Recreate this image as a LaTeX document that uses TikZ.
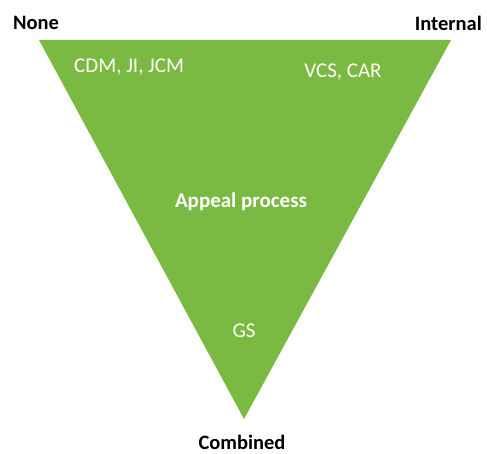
\documentclass[tikz,border=0pt]{standalone}
\usepackage{fontspec}
\setmainfont{Carlito}
\definecolor{tgreen}{HTML}{7AB942}
\begin{document}
\begin{tikzpicture}[x=1pt,y=-1pt,
  lbl/.style={font=\fontsize{20.5}{24}\selectfont\bfseries, text=black, inner sep=0pt},
  inlbl/.style={font=\fontsize{21}{24}\selectfont, text=white, inner sep=0pt},
  inbold/.style={font=\fontsize{21}{24}\selectfont\bfseries, text=white, inner sep=0pt}]
\useasboundingbox (0,0) rectangle (487,454);
\coordinate (tl) at (39,40);
\coordinate (tr) at (451,40);
\coordinate (bot) at (244,419);
\fill[tgreen] (tl) -- (tr) -- (bot) -- cycle;
\node[lbl, anchor=base west] (none) at (13,30) {None};
\node[lbl, anchor=base east] (internal) at (482,31) {Internal};
\node[lbl, anchor=base] (combined) at (242,449) {Combined};
\node[inlbl, anchor=base west] (cdm) at (74,73) {CDM, JI, JCM};
\node[inlbl, anchor=base] (vcs) at (343,78) {VCS, CAR};
\node[inbold, anchor=base] (appeal) at (241,208) {Appeal process};
\node[inlbl, anchor=base] (gs) at (244,337) {GS};
\end{tikzpicture}
\end{document}
